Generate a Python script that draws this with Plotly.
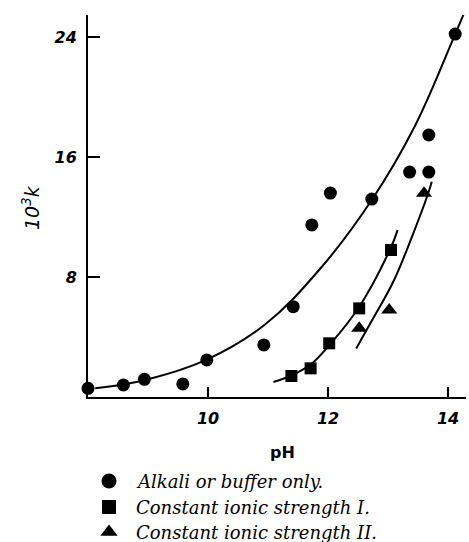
import plotly.graph_objects as go

# Data points
ph_alkali = [8.0, 8.59, 8.94, 9.58, 9.98, 10.93, 11.42, 11.73, 12.04, 12.73, 13.36, 13.68, 13.68, 14.12]
k_alkali = [0.58, 0.80, 1.18, 0.87, 2.47, 3.47, 6.02, 11.47, 13.6, 13.2, 15.0, 15.0, 17.47, 24.2]

ph_ionic1 = [11.39, 11.71, 12.02, 12.52, 13.05]
k_ionic1 = [1.4, 1.91, 3.58, 5.91, 9.8]

ph_ionic2 = [12.52, 13.02, 13.6]
k_ionic2 = [4.58, 5.8, 13.58]

# Fitted curves
curve_alkali_ph = [8.12, 8.94, 9.97, 10.94, 11.88, 12.74, 13.44, 14.12, 14.29]
curve_alkali_k = [0.58, 1.12, 2.47, 4.8, 8.6, 13.2, 18.0, 24.2, 25.8]

curve_ionic1_ph = [11.09, 11.4, 11.72, 12.02, 12.51, 13.03, 13.16]
curve_ionic1_k = [1.0, 1.45, 2.2, 3.45, 5.95, 9.8, 11.13]

curve_ionic2_ph = [12.47, 12.76, 13.09, 13.42, 13.65, 13.73]
curve_ionic2_k = [3.24, 5.3, 7.7, 10.9, 13.35, 14.35]

x_ticks = [10, 12, 14]
y_ticks = [8, 16, 24]

legend_names = ["Alkali or buffer only.", "Constant ionic strength I.", "Constant ionic strength II."]
legend_symbols = ["circle", "square", "triangle-up"]
legend_sizes = [15, 14, 15]

W, H = 469, 542
# plot area in pixels
PL, PR, PT, PB = 88, 466, 15, 397

fig = go.Figure()

line_style = dict(color="black", width=2, shape="spline", smoothing=1.1)
for px, py in [(curve_alkali_ph, curve_alkali_k), (curve_ionic1_ph, curve_ionic1_k), (curve_ionic2_ph, curve_ionic2_k)]:
    fig.add_trace(go.Scatter(x=px, y=py, mode="lines", line=line_style,
                             showlegend=False, hoverinfo="skip", cliponaxis=False))

fig.add_trace(go.Scatter(x=ph_alkali, y=k_alkali, mode="markers", showlegend=False,
                         marker=dict(symbol="circle", size=13, color="black"), cliponaxis=False))
fig.add_trace(go.Scatter(x=ph_ionic1, y=k_ionic1, mode="markers", showlegend=False,
                         marker=dict(symbol="square", size=12, color="black"), cliponaxis=False))
fig.add_trace(go.Scatter(x=ph_ionic2, y=k_ionic2, mode="markers", showlegend=False,
                         marker=dict(symbol="triangle-up", size=14, color="black"), cliponaxis=False))

# Manual legend on an auxiliary pixel-unit axis below the plot
leg_rows_y = [H - 481, H - 507, H - 532]  # pixel rows measured from bottom
leg_marker_x = 109
leg_text_x = 134
annotations = []
for name, sym, sz, ry in zip(legend_names, legend_symbols, legend_sizes, leg_rows_y):
    fig.add_trace(go.Scatter(x=[leg_marker_x], y=[ry], mode="markers", xaxis="x2", yaxis="y2",
                             marker=dict(symbol=sym, size=sz, color="black"),
                             showlegend=False, hoverinfo="skip", cliponaxis=False))
    annotations.append(dict(text=name, xref="x2", yref="y2", x=leg_text_x, y=ry,
                            xanchor="left", yanchor="middle", showarrow=False,
                            font=dict(family="DejaVu Serif", size=18, color="black", style="italic")))

annotations.append(dict(text="10<sup>3</sup>k", xref="x2", yref="paper", x=31, y=1 - 208 / H,
                        xanchor="center", yanchor="middle", textangle=-90, showarrow=False,
                        font=dict(family="DejaVu Sans", size=19, color="black", style="italic")))
annotations.append(dict(text="pH", xref="x2", yref="y2", x=282, y=H - 452,
                        xanchor="center", yanchor="middle", showarrow=False,
                        font=dict(family="DejaVu Sans", size=16, color="black", weight="bold")))

tick_font = dict(family="DejaVu Sans", size=16, color="black", style="italic", weight="bold")

fig.update_layout(
    width=W, height=H,
    margin=dict(l=0, r=0, t=0, b=0),
    paper_bgcolor="white", plot_bgcolor="rgba(0,0,0,0)",
    showlegend=False,
    xaxis=dict(domain=[PL / W, PR / W], anchor="y", range=[8, 14.3], tickvals=x_ticks,
               ticktext=[str(v) for v in x_ticks],
               showgrid=False, zeroline=False, showline=True, linecolor="black", linewidth=2,
               ticks="inside", ticklen=10, tickwidth=1.5, tickcolor="black",
               tickfont=tick_font, ticklabelstandoff=6),
    yaxis=dict(domain=[1 - PB / H, 1 - PT / H], anchor="x", range=[0, 25.47], tickvals=y_ticks,
               ticktext=[str(v) for v in y_ticks],
               showgrid=False, zeroline=False, showline=True, linecolor="black", linewidth=2,
               ticks="inside", ticklen=12, tickwidth=1.5, tickcolor="black",
               tickfont=tick_font, ticklabelstandoff=6),
    xaxis2=dict(domain=[0, 1], anchor="y2", range=[0, W], visible=False, fixedrange=True),
    yaxis2=dict(domain=[0, 1], anchor="x2", range=[0, H], visible=False, fixedrange=True),
    annotations=annotations,
)

fig.write_html("out.html", config={"displayModeBar": False},
               post_script="document.body.style.margin='0';document.body.style.overflow='hidden';")
